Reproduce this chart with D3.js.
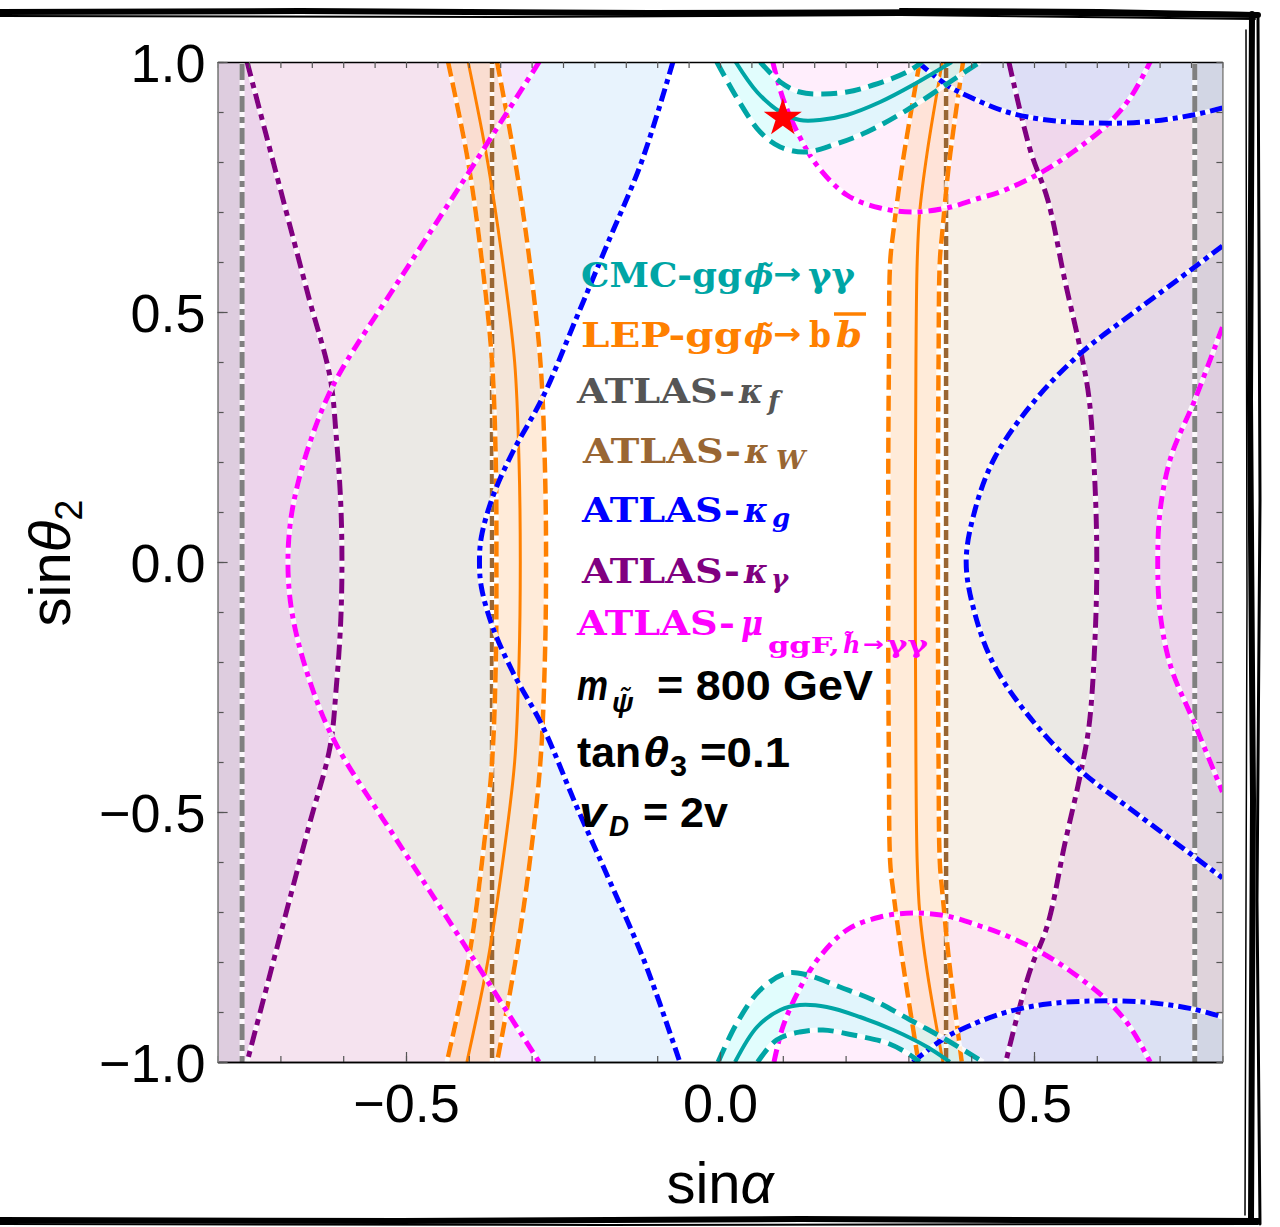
<!DOCTYPE html>
<html><head><meta charset="utf-8">
<script src="https://cdn.jsdelivr.net/npm/d3@7"></script>
<style>body{margin:0;background:#fff}svg{display:block}</style>
</head><body>
<svg id="c" width="1280" height="1227"></svg>
<script>
// ---------------- data (sinα , sinθ2) ----------------
const xTickLabels = [-0.5, 0, 0.5];
const yTickLabels = [-1, -0.5, 0, 0.5, 1];
const kfBounds = [-0.761, 0.756];          // ATLAS-κf boundaries
const kWBounds = [-0.363, 0.360];          // ATLAS-κW boundaries
const lepLeftOuter = [[-0.433,1],[-0.401,0.8],[-0.379,0.6],[-0.363,0.4],[-0.357,0.2],[-0.356,0],[-0.357,-0.2],[-0.363,-0.4],[-0.379,-0.6],[-0.401,-0.8],[-0.435,-1]];
const lepLeftCenter = [[-0.401,1],[-0.370,0.8],[-0.346,0.6],[-0.327,0.4],[-0.320,0.2],[-0.318,0],[-0.320,-0.2],[-0.327,-0.4],[-0.346,-0.6],[-0.370,-0.8],[-0.403,-1]];
const lepLeftInner = [[-0.355,1],[-0.326,0.8],[-0.303,0.6],[-0.286,0.4],[-0.279,0.2],[-0.277,0],[-0.279,-0.2],[-0.286,-0.4],[-0.303,-0.6],[-0.326,-0.8],[-0.355,-1]];
const lepRightOuter = [[0.318,1],[0.291,0.8],[0.276,0.66],[0.271,0.6],[0.269,0.4],[0.268,0.2],[0.268,0],[0.268,-0.2],[0.269,-0.4],[0.271,-0.6],[0.276,-0.66],[0.291,-0.8],[0.316,-1]];
const lepRightCenter = [[0.354,1],[0.330,0.82],[0.318,0.7],[0.314,0.6],[0.312,0.4],[0.311,0],[0.312,-0.4],[0.314,-0.6],[0.318,-0.7],[0.330,-0.82],[0.355,-1]];
const lepRightInner = [[0.387,1],[0.365,0.8],[0.354,0.66],[0.350,0.6],[0.348,0.4],[0.347,0],[0.348,-0.4],[0.350,-0.6],[0.354,-0.66],[0.365,-0.8],[0.385,-1]];
const kgLeft = [[-0.075,1],[-0.125,0.80],[-0.178,0.64],[-0.228,0.49],[-0.282,0.33],[-0.330,0.22],[-0.362,0.13],[-0.380,0.05],[-0.383,0],[-0.380,-0.05],[-0.362,-0.13],[-0.330,-0.22],[-0.282,-0.33],[-0.228,-0.49],[-0.175,-0.64],[-0.120,-0.80],[-0.064,-1]];
const kgRight = [[0.80,0.632],[0.756,0.59],[0.660,0.50],[0.575,0.418],[0.502,0.324],[0.438,0.21],[0.406,0.104],[0.392,0],[0.406,-0.104],[0.438,-0.21],[0.502,-0.324],[0.575,-0.418],[0.660,-0.50],[0.756,-0.59],[0.80,-0.632]];
const kgTop = [[0.315,1],[0.361,0.954],[0.398,0.93],[0.457,0.90],[0.521,0.884],[0.594,0.878],[0.674,0.880],[0.753,0.894],[0.80,0.908]];
const kgBottom = [[0.307,-1],[0.358,-0.952],[0.400,-0.926],[0.457,-0.90],[0.521,-0.884],[0.594,-0.878],[0.674,-0.880],[0.753,-0.894],[0.80,-0.910]];
const kgamLeft = [[-0.753,1],[-0.701,0.75],[-0.655,0.53],[-0.621,0.37],[-0.611,0.25],[-0.604,0.12],[-0.602,0],[-0.604,-0.12],[-0.611,-0.25],[-0.621,-0.37],[-0.655,-0.53],[-0.701,-0.75],[-0.753,-1]];
const kgamRight = [[0.460,1],[0.494,0.824],[0.522,0.724],[0.549,0.564],[0.575,0.418],[0.588,0.324],[0.597,0.158],[0.600,0],[0.597,-0.158],[0.588,-0.324],[0.575,-0.418],[0.549,-0.564],[0.522,-0.724],[0.492,-0.824],[0.455,-1]];
const muLeft = [[-0.288,1],[-0.414,0.752],[-0.518,0.55],[-0.600,0.39],[-0.627,0.324],[-0.650,0.25],[-0.672,0.158],[-0.684,0.08],[-0.688,0],[-0.684,-0.08],[-0.672,-0.158],[-0.650,-0.25],[-0.627,-0.324],[-0.600,-0.39],[-0.518,-0.55],[-0.414,-0.752],[-0.288,-1]];
const muRight = [[0.80,0.47],[0.756,0.324],[0.718,0.21],[0.701,0.104],[0.697,0],[0.701,-0.104],[0.718,-0.21],[0.756,-0.324],[0.80,-0.46]];
const muTop = [[0.084,1],[0.100,0.928],[0.123,0.86],[0.154,0.794],[0.202,0.734],[0.255,0.708],[0.307,0.700],[0.361,0.708],[0.414,0.728],[0.446,0.740],[0.510,0.778],[0.562,0.820],[0.616,0.874],[0.653,0.928],[0.685,1]];
const muBottom = [[0.086,-1],[0.100,-0.930],[0.125,-0.858],[0.156,-0.794],[0.202,-0.736],[0.255,-0.710],[0.307,-0.702],[0.361,-0.708],[0.414,-0.728],[0.446,-0.742],[0.510,-0.780],[0.562,-0.822],[0.616,-0.876],[0.653,-0.930],[0.685,-1]];
const cmcTopOuter = [[-0.005,1],[0.027,0.928],[0.064,0.86],[0.096,0.830],[0.135,0.820],[0.180,0.834],[0.234,0.860],[0.303,0.908],[0.366,0.960],[0.414,1]];
const cmcTopCenter = [[0.025,1],[0.059,0.94],[0.096,0.900],[0.127,0.884],[0.159,0.884],[0.202,0.894],[0.255,0.920],[0.307,0.954],[0.369,1]];
const cmcTopInner = [[0.064,1],[0.096,0.960],[0.127,0.940],[0.164,0.936],[0.202,0.940],[0.244,0.954],[0.298,0.980],[0.322,1]];
const cmcBotOuter = [[-0.003,-1],[0.027,-0.922],[0.064,-0.856],[0.107,-0.822],[0.139,-0.826],[0.191,-0.850],[0.244,-0.876],[0.303,-0.916],[0.361,-0.956],[0.419,-1]];
const cmcBotCenter = [[0.024,-1],[0.059,-0.930],[0.096,-0.896],[0.127,-0.886],[0.170,-0.890],[0.223,-0.910],[0.276,-0.936],[0.330,-0.970],[0.366,-1]];
const cmcBotInner = [[0.060,-1],[0.090,-0.956],[0.127,-0.940],[0.164,-0.936],[0.212,-0.946],[0.266,-0.962],[0.298,-0.982],[0.318,-1]];
const benchmark = [0.1, 0.888];

// ---------------- drawing ----------------
const svg = d3.select('#c');
const x = d3.scaleLinear().domain([-0.8,0.8]).range([217.6,1222.4]);
const y = d3.scaleLinear().domain([-1,1]).range([1062,62]);
const X0=x(-0.8), X1=x(0.8), Y0=y(1), Y1=y(-1);
const SLAB="'DejaVu Serif',serif";
const SANS="'Liberation Sans',Arial,sans-serif";
const ARROW="'DejaVu Sans',sans-serif";

svg.append('defs').append('clipPath').attr('id','pc').append('rect')
  .attr('x',X0).attr('y',Y0).attr('width',X1-X0).attr('height',Y1-Y0);

const ln = d3.line().x(d=>x(d[0])).y(d=>y(d[1])).curve(d3.curveCatmullRom.alpha(0.5));
const L = (a,b)=>`L${x(a)},${y(b)}`;
const band = (a,b)=> ln(a) + 'L' + ln(b.slice().reverse()).slice(1) + 'Z';
const vrect = (a,b)=> `M${x(a)},${y(1)}L${x(b)},${y(1)}L${x(b)},${y(-1)}L${x(a)},${y(-1)}Z`;

const COL = {cmc:'#00a5a5', lep:'#ff8000', kf:'#808080', kW:'#996633', kg:'#0000ff', kgam:'#800080', mu:'#ff00ff'};
const F = {kg:'rgba(110,180,245,0.16)', kgT:'rgba(205,228,255,0.55)', kW:'rgba(240,222,200,0.45)', mu:'rgba(255,222,250,0.5)',
           kgam:'rgba(222,190,228,0.38)', kf:'rgba(190,190,195,0.3)', lep:'rgba(255,215,180,0.5)', cmc:'rgba(200,252,252,0.55)'};
const fills = [
  {d: ln(kgLeft)+L(-0.8,-1)+L(-0.8,1)+'Z', f:F.kg},
  {d: ln(kgRight)+'Z', f:F.kg},
  {d: vrect(-0.8,kWBounds[0]), f:F.kW},
  {d: vrect(kWBounds[1],0.8), f:F.kW},
  {d: ln(muLeft)+L(-0.8,-1)+L(-0.8,1)+'Z', f:F.mu},
  {d: ln(muRight)+'Z', f:F.mu},
  {d: ln(muTop)+'Z', f:F.mu},
  {d: ln(muBottom)+'Z', f:F.mu},
  {d: ln(kgamLeft)+L(-0.8,-1)+L(-0.8,1)+'Z', f:F.kgam},
  {d: ln(kgamRight)+L(0.8,-1)+L(0.8,1)+'Z', f:F.kgam},
  {d: ln(kgTop)+L(0.8,1)+'Z', f:F.kgT},
  {d: ln(kgBottom)+L(0.8,-1)+'Z', f:F.kgT},
  {d: vrect(-0.8,kfBounds[0]), f:F.kf},
  {d: vrect(kfBounds[1],0.8), f:F.kf},
  {d: band(lepLeftOuter,lepLeftInner), f:F.lep},
  {d: band(lepRightOuter,lepRightInner), f:F.lep},
  {d: band(cmcTopOuter,cmcTopInner), f:F.cmc},
  {d: band(cmcBotOuter,cmcBotInner), f:F.cmc}
];
const gp = svg.append('g').attr('clip-path','url(#pc)');
gp.selectAll('path.fill').data(fills).join('path').attr('class','fill')
  .attr('d',d=>d.d).attr('fill',d=>d.f).attr('stroke','none');

const vline = v => [[v,-1.02],[v,1.02]];
const DD = {kf:'16,5,6,5', kW:'10,4', lep:'15,6', kgam:'15,6,6,6', mu:'13,6,5,6', kg:'13,5,5,5', cmc:'16,8'};
const lines = [
  {p: vline(kfBounds[0]), c:COL.kf, w:5, dash:DD.kf},
  {p: vline(kfBounds[1]), c:COL.kf, w:5, dash:DD.kf},
  {p: vline(kWBounds[0]), c:COL.kW, w:4.5, dash:DD.kW},
  {p: vline(kWBounds[1]), c:COL.kW, w:4.5, dash:DD.kW},
  {p: lepLeftOuter, c:COL.lep, w:4.5, dash:DD.lep},
  {p: lepLeftInner, c:COL.lep, w:4.5, dash:DD.lep},
  {p: lepLeftCenter, c:COL.lep, w:3, dash:null},
  {p: lepRightOuter, c:COL.lep, w:4.5, dash:DD.lep},
  {p: lepRightInner, c:COL.lep, w:4.5, dash:DD.lep},
  {p: lepRightCenter, c:COL.lep, w:3, dash:null},
  {p: kgamLeft, c:COL.kgam, w:5, dash:DD.kgam},
  {p: kgamRight, c:COL.kgam, w:5, dash:DD.kgam},
  {p: muLeft, c:COL.mu, w:5, dash:DD.mu},
  {p: muRight, c:COL.mu, w:5, dash:DD.mu},
  {p: muTop, c:COL.mu, w:5, dash:DD.mu},
  {p: muBottom, c:COL.mu, w:5, dash:DD.mu},
  {p: kgLeft, c:COL.kg, w:5, dash:DD.kg},
  {p: kgRight, c:COL.kg, w:5, dash:DD.kg},
  {p: kgTop, c:COL.kg, w:5, dash:DD.kg},
  {p: kgBottom, c:COL.kg, w:5, dash:DD.kg},
  {p: cmcTopOuter, c:COL.cmc, w:5, dash:DD.cmc},
  {p: cmcTopInner, c:COL.cmc, w:5, dash:DD.cmc},
  {p: cmcTopCenter, c:COL.cmc, w:4, dash:null},
  {p: cmcBotOuter, c:COL.cmc, w:5, dash:DD.cmc},
  {p: cmcBotInner, c:COL.cmc, w:5, dash:DD.cmc},
  {p: cmcBotCenter, c:COL.cmc, w:4, dash:null}
];
lines.forEach(s=>{
  if(s.dash) gp.append('path').attr('d',ln(s.p)).attr('fill','none').attr('stroke','#fff').attr('stroke-opacity',0.85).attr('stroke-width',s.w);
  gp.append('path').attr('d',ln(s.p)).attr('fill','none').attr('stroke',s.c)
    .attr('stroke-width',s.w).attr('stroke-dasharray',s.dash||null);
});

// benchmark star
svg.append('path').attr('d',d3.symbol(d3.symbolStar).size(450)())
  .attr('transform',`translate(${x(benchmark[0])},${y(benchmark[1])})`).attr('fill','#ff0000');

// ---------------- axes ----------------
const fmt = d3.format('.1f');
const minorX = d3.range(-8,9).map(i=>i/10);
const minorXtop = d3.range(-16,17).map(i=>i/20);
const minorY = d3.range(-10,11).map(i=>i/10);
function styleAx(g, dom){
  g.selectAll('.tick line').attr('stroke','#555').attr('stroke-width',1.2);
  g.select('.domain').attr('stroke',dom).attr('stroke-width',1.4);
  g.selectAll('text').attr('font-family',SANS).attr('font-size',54).attr('fill','#000');
}
const axB = svg.append('g').attr('transform',`translate(0,${Y1})`)
  .call(d3.axisBottom(x).tickValues(minorX).tickSize(-6).tickSizeOuter(0).tickFormat(''));
styleAx(axB,'#000');
const axB2 = svg.append('g').attr('transform',`translate(0,${Y1})`)
  .call(d3.axisBottom(x).tickValues(xTickLabels).tickSize(-10).tickSizeOuter(0).tickPadding(22).tickFormat(fmt));
styleAx(axB2,'#000');
const axT = svg.append('g').attr('transform',`translate(0,${Y0})`)
  .call(d3.axisTop(x).tickValues(minorXtop).tickSize(-6).tickSizeOuter(0).tickFormat(''));
styleAx(axT,'#000');
const axL = svg.append('g').attr('transform',`translate(${X0},0)`)
  .call(d3.axisLeft(y).tickValues(minorY).tickSize(-6).tickSizeOuter(0).tickFormat(''));
styleAx(axL,'#888');
const axL2 = svg.append('g').attr('transform',`translate(${X0},0)`)
  .call(d3.axisLeft(y).tickValues(yTickLabels).tickSize(-10).tickSizeOuter(0).tickPadding(12).tickFormat(fmt));
styleAx(axL2,'#888');
axL2.selectAll('text').attr('dy','0.36em');
const axR = svg.append('g').attr('transform',`translate(${X1},0)`)
  .call(d3.axisRight(y).tickValues(minorY).tickSize(-6).tickSizeOuter(0).tickFormat(''));
styleAx(axR,'#777');

// axis titles
const xt = svg.append('text').attr('x',720).attr('y',1203).attr('text-anchor','middle')
  .attr('font-family',SANS).attr('font-size',58);
xt.append('tspan').text('sin');
xt.append('tspan').attr('font-style','italic').text('α');
const yt = svg.append('text').attr('transform','translate(70,563) rotate(-90)').attr('text-anchor','middle')
  .attr('font-family',SANS).attr('font-size',58);
yt.append('tspan').text('sin');
yt.append('tspan').attr('font-style','italic').text('θ');
yt.append('tspan').attr('font-size',38).attr('dy',12).text('2');

// ---------------- legend / annotations ----------------
function T(xp, yp, str, o){
  const t = svg.append('text').attr('x',xp).attr('y',yp).text(str)
    .attr('font-family',o.f||SLAB).attr('font-size',o.s||33).attr('font-weight',o.w||'bold')
    .attr('font-style',o.i?'italic':'normal').attr('fill',o.c||'#000');
  if(o.a) t.attr('text-anchor',o.a);
  if(o.len) t.attr('textLength',o.len).attr('lengthAdjust','spacingAndGlyphs');
  return t;
}
// CMC
T(581,287,'CMC-gg',{c:COL.cmc,len:161});
T(744,287,'ϕ\u0303',{c:COL.cmc,s:31,i:true});
T(773,284,'→',{c:COL.cmc,f:ARROW,s:30,len:28});
T(808,287,'γγ',{c:COL.cmc,s:36,len:47});
// LEP
T(581,347,'LEP-gg',{c:COL.lep,len:161});
T(744,347,'ϕ\u0303',{c:COL.lep,s:31,i:true});
T(773,344,'→',{c:COL.lep,f:ARROW,s:30,len:28});
T(809,347,'b',{c:COL.lep,s:36,len:22});
T(836,347,'b',{c:COL.lep,s:36,i:true,len:26});
svg.append('line').attr('x1',834).attr('x2',866).attr('y1',314).attr('y2',314).attr('stroke',COL.lep).attr('stroke-width',3.5);
// ATLAS lines
const atl = [
  {c:'#555555', x:577, b:403, sub:'f',  sx:768, sb:410},
  {c:'#996633', x:583, b:463, sub:'W',  sx:776, sb:469},
  {c:'#0000ff', x:582, b:522, sub:'g',  sx:772, sb:527},
  {c:'#800080', x:582, b:583, sub:'γ',  sx:771, sb:588}
];
atl.forEach(a=>{
  T(a.x,a.b,'ATLAS-',{c:a.c,len:158});
  T(a.x+162,a.b,'κ',{c:a.c,s:36,i:true,len:24});
  T(a.sx,a.sb,a.sub,{c:a.c,s:26,i:true});
});
T(577,635,'ATLAS-',{c:COL.mu,len:158});
T(741,635,'μ',{c:COL.mu,s:36,i:true,len:22});
T(768,653,'ggF,',{c:COL.mu,s:23,len:72});
T(843,653,'h\u0303',{c:COL.mu,s:24,i:true});
T(863,651,'→',{c:COL.mu,f:ARROW,s:20,len:21});
T(887,653,'γγ',{c:COL.mu,s:24,len:41});
// parameters
T(577,700,'m',{f:SANS,s:42,i:true,len:31});
T(612,712,'ψ\u0303',{f:SANS,s:28,i:true});
T(657,700,'= 800 GeV',{f:SANS,s:42,len:216});
T(577,767,'tan',{f:SANS,s:42,len:64});
T(643,767,'θ',{f:SANS,s:42,i:true,len:26});
T(670,776,'3',{f:SANS,s:30,len:17});
T(700,767,'=0.1',{f:SANS,s:42,len:90});
T(579,827,'v',{f:SANS,s:42,i:true,len:27});
T(609,836,'D',{f:SANS,s:30,i:true,len:20});
T(643,827,'= 2v',{f:SANS,s:42,len:85});

// ---------------- sketchy outer border (decoration) ----------------
const bd = svg.append('g').attr('fill','none').attr('stroke','#000').attr('stroke-linecap','round');
bd.append('path').attr('d','M0,12 L300,11 L650,13 L1000,12 L1258,15').attr('stroke-width',6);
bd.append('path').attr('d','M0,16 L500,17 L900,15 L1255,19').attr('stroke-width',2);
bd.append('path').attr('d','M900,9 L1100,10 L1250,13').attr('stroke-width',2);
bd.append('path').attr('d','M1252,14 L1250,400 L1253,800 L1251,1222').attr('stroke-width',6);
bd.append('path').attr('d','M1258,18 L1260,500 L1257,900 L1260,1224').attr('stroke-width',3);
bd.append('path').attr('d','M1246,30 L1247,600 L1245,1215').attr('stroke-width',1.5);
bd.append('path').attr('d','M0,1220 L400,1221 L800,1219 L1258,1221').attr('stroke-width',6);
bd.append('path').attr('d','M0,1224 L600,1225 L1258,1224').attr('stroke-width',2);
</script>
</body></html>
